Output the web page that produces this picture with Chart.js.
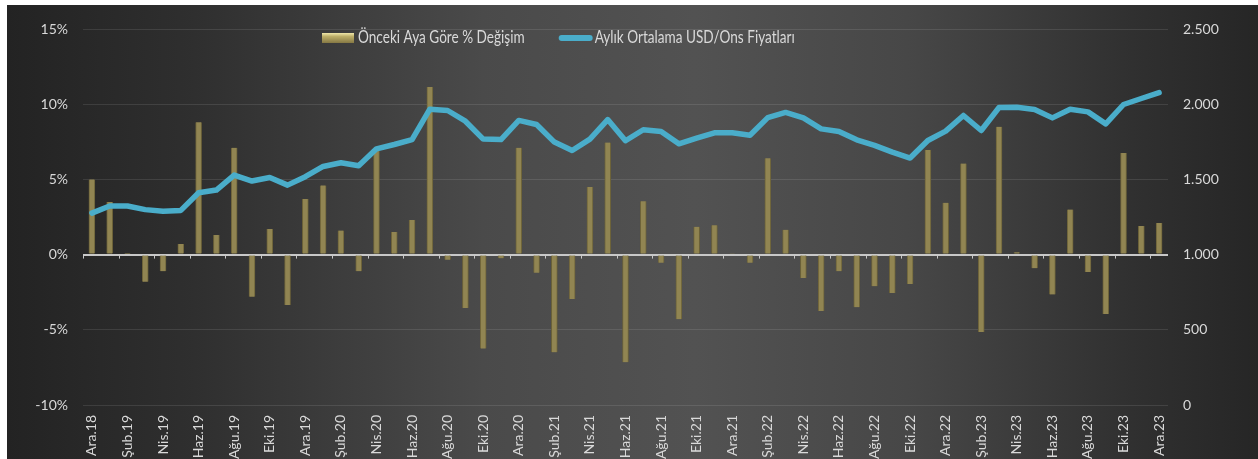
<!DOCTYPE html>
<html lang="tr">
<head>
<meta charset="utf-8">
<title>Altın fiyatları</title>
<script src="https://cdn.jsdelivr.net/npm/chart.js@4.4.0/dist/chart.umd.min.js"></script>
<style>
  html, body { margin: 0; padding: 0; background: #fff; }
  #kutu { width: 1258px; height: 459px; }
</style>
</head>
<body>
<div id="kutu"><canvas id="altinCanvas"></canvas></div>
<script>
// aylar (Ara.18 - Ara.23)
const aylar = [
  'Ara.18',
  'Oca.19', 'Şub.19', 'Mar.19', 'Nis.19', 'May.19', 'Haz.19', 'Tem.19', 'Ağu.19', 'Eyl.19', 'Eki.19', 'Kas.19', 'Ara.19',
  'Oca.20', 'Şub.20', 'Mar.20', 'Nis.20', 'May.20', 'Haz.20', 'Tem.20', 'Ağu.20', 'Eyl.20', 'Eki.20', 'Kas.20', 'Ara.20',
  'Oca.21', 'Şub.21', 'Mar.21', 'Nis.21', 'May.21', 'Haz.21', 'Tem.21', 'Ağu.21', 'Eyl.21', 'Eki.21', 'Kas.21', 'Ara.21',
  'Oca.22', 'Şub.22', 'Mar.22', 'Nis.22', 'May.22', 'Haz.22', 'Tem.22', 'Ağu.22', 'Eyl.22', 'Eki.22', 'Kas.22', 'Ara.22',
  'Oca.23', 'Şub.23', 'Mar.23', 'Nis.23', 'May.23', 'Haz.23', 'Tem.23', 'Ağu.23', 'Eyl.23', 'Eki.23', 'Kas.23', 'Ara.23'
];

// önceki aya göre % değişim
const degisim = [
  5.0,
  3.5, 0.1, -1.8, -1.1, 0.7, 8.8, 1.3, 7.1, -2.8, 1.7, -3.35, 3.7,
  4.6, 1.6, -1.1, 6.9, 1.5, 2.3, 11.15, -0.35, -3.55, -6.25, -0.25, 7.1,
  -1.2, -6.5, -2.95, 4.5, 7.45, -7.15, 3.55, -0.55, -4.3, 1.85, 1.95, 0.05,
  -0.55, 6.4, 1.65, -1.55, -3.75, -1.1, -3.5, -2.1, -2.55, -1.95, 6.95, 3.45,
  6.05, -5.15, 8.5, 0.15, -0.9, -2.65, 3.0, -1.15, -3.95, 6.75, 1.9, 2.1
];

// aylık ortalama USD/ons
const fiyat = [
  1276,
  1323, 1323, 1299, 1288, 1294, 1411, 1429, 1529, 1489, 1513, 1462, 1518,
  1586, 1611, 1591, 1703, 1732, 1765, 1967, 1958, 1887, 1768, 1765, 1892,
  1865, 1748, 1692, 1768, 1898, 1757, 1830, 1819, 1737, 1774, 1810, 1810,
  1794, 1911, 1945, 1909, 1836, 1819, 1763, 1726, 1681, 1642, 1759, 1821,
  1925, 1825, 1978, 1980, 1965, 1909, 1967, 1949, 1869, 1998, 2038, 2077
];

const yuzdeTikleri = [-10, 15, 5];   // min, max, adım
const fiyatTikleri = [0, 2500, 500];

const yaziRengi = '#d9d9d9';
const barRengi = '#918552';
const cizgiRengi = '#4aadca';

Chart.defaults.font.family = 'Lato, "Noto Sans", sans-serif';
Chart.defaults.color = yaziRengi;

function binlik(v) {
  return String(v).replace(/\B(?=(\d{3})+(?!\d))/g, '.');
}

// koyu arka plan (beyaz kenarlı)
const arkaPlan = {
  id: 'arkaPlan',
  beforeDraw(chart) {
    const ctx = chart.ctx, w = chart.width, h = chart.height;
    ctx.save();
    ctx.fillStyle = '#ffffff';
    ctx.fillRect(0, 0, w, h);
    const g = ctx.createLinearGradient(7, 0, w, 0);
    g.addColorStop(0, '#232323');
    g.addColorStop(0.15, '#2f2f2f');
    g.addColorStop(0.38, '#4a4a4a');
    g.addColorStop(0.55, '#525252');
    g.addColorStop(0.72, '#474747');
    g.addColorStop(0.9, '#303030');
    g.addColorStop(1, '#262626');
    ctx.fillStyle = g;
    ctx.fillRect(7, 5, w - 7, h - 5);
    ctx.restore();
  }
};

// sıfır çizgisindeki küçük tikler
const sifirTikleri = {
  id: 'sifirTikleri',
  beforeDatasetsDraw(chart) {
    const ctx = chart.ctx;
    const x = chart.scales.x, y = chart.scales.y;
    const y0 = y.getPixelForValue(0);
    const yarim = (x.getPixelForValue(1) - x.getPixelForValue(0)) / 2;
    ctx.save();
    ctx.strokeStyle = '#c8c8c8';
    ctx.lineWidth = 1;
    ctx.beginPath();
    for (let i = 0; i < aylar.length; i += 2) {
      const px = Math.round(x.getPixelForValue(i) - yarim) + 0.5;
      ctx.moveTo(px, y0);
      ctx.lineTo(px, y0 + 4);
    }
    ctx.stroke();
    ctx.restore();
  }
};

// lejant grafiğin içinde, üstte (Calibri gibi dar görünsün diye yatayda sıkıştırılıyor)
const lejant = {
  id: 'lejant',
  afterDraw(chart) {
    const ctx = chart.ctx;
    const ds = chart.data.datasets;
    const yMerkez = 38;
    const sikistir = 0.8;
    let x = chart.chartArea.left + 239;
    ctx.save();
    ctx.font = '17px Lato, "Noto Sans", sans-serif';
    ctx.textBaseline = 'middle';

    const yazi = (metin, px) => {
      ctx.save();
      ctx.translate(px, yMerkez);
      ctx.scale(sikistir, 1);
      ctx.fillStyle = yaziRengi;
      ctx.fillText(metin, 0, 0);
      ctx.restore();
      return ctx.measureText(metin).width * sikistir;
    };

    const g = ctx.createLinearGradient(0, yMerkez - 5, 0, yMerkez + 5);
    g.addColorStop(0, '#efe7aa');
    g.addColorStop(0.35, '#bcae68');
    g.addColorStop(1, '#857844');
    ctx.fillStyle = g;
    ctx.fillRect(x, yMerkez - 5, 32, 10);
    x += 36;
    x += yazi(ds[0].label, x) + 34;

    ctx.strokeStyle = cizgiRengi;
    ctx.lineWidth = 6;
    ctx.lineCap = 'round';
    ctx.beginPath();
    ctx.moveTo(x + 3, yMerkez);
    ctx.lineTo(x + 31, yMerkez);
    ctx.stroke();
    x += 36;
    yazi(ds[1].label, x);
    ctx.restore();
  }
};

new Chart(document.getElementById('altinCanvas'), {
  type: 'bar',
  data: {
    labels: aylar,
    datasets: [
      {
        type: 'bar',
        label: 'Önceki Aya Göre % Değişim',
        data: degisim,
        yAxisID: 'y',
        backgroundColor: barRengi,
        borderColor: '#6c6239',
        borderWidth: { left: 1, right: 1, top: 0, bottom: 0 },
        borderSkipped: false,
        barThickness: 6,
        order: 1
      },
      {
        type: 'line',
        label: 'Aylık Ortalama USD/Ons Fiyatları',
        data: fiyat,
        yAxisID: 'y1',
        borderColor: cizgiRengi,
        backgroundColor: cizgiRengi,
        borderWidth: 5.5,
        borderJoinStyle: 'round',
        borderCapStyle: 'round',
        pointRadius: 0,
        tension: 0,
        order: 0
      }
    ]
  },
  options: {
    responsive: true,
    maintainAspectRatio: false,
    animation: false,
    events: [],
    layout: { padding: { top: 29, left: 0, right: 0, bottom: 0 } },
    plugins: {
      legend: { display: false },
      tooltip: { enabled: false }
    },
    scales: {
      x: {
        grid: { display: false, drawTicks: false },
        border: { display: false },
        ticks: {
          autoSkip: false,
          minRotation: 90,
          maxRotation: 90,
          padding: 10,
          font: { size: 14 },
          callback: (v, i) => i % 2 === 0 ? aylar[i] : ''
        },
        afterFit: s => { s.height = 54; }
      },
      y: {
        position: 'left',
        min: yuzdeTikleri[0],
        max: yuzdeTikleri[1],
        ticks: { stepSize: yuzdeTikleri[2], padding: 15, font: { size: 14 }, callback: v => v + '%' },
        grid: {
          drawTicks: false,
          color: c => c.tick.value === 0 ? '#c8c8c8' : 'rgba(255,255,255,0.1)',
          lineWidth: c => c.tick.value === 0 ? 2 : 1
        },
        border: { display: false },
        afterFit: s => { s.width = 83; }
      },
      y1: {
        position: 'right',
        min: fiyatTikleri[0],
        max: fiyatTikleri[1],
        ticks: { stepSize: fiyatTikleri[2], padding: 15, font: { size: 14 }, callback: v => binlik(v) },
        grid: { drawOnChartArea: false, drawTicks: false },
        border: { display: false },
        afterFit: s => { s.width = 90; }
      }
    }
  },
  plugins: [arkaPlan, sifirTikleri, lejant]
});
</script>
</body>
</html>
